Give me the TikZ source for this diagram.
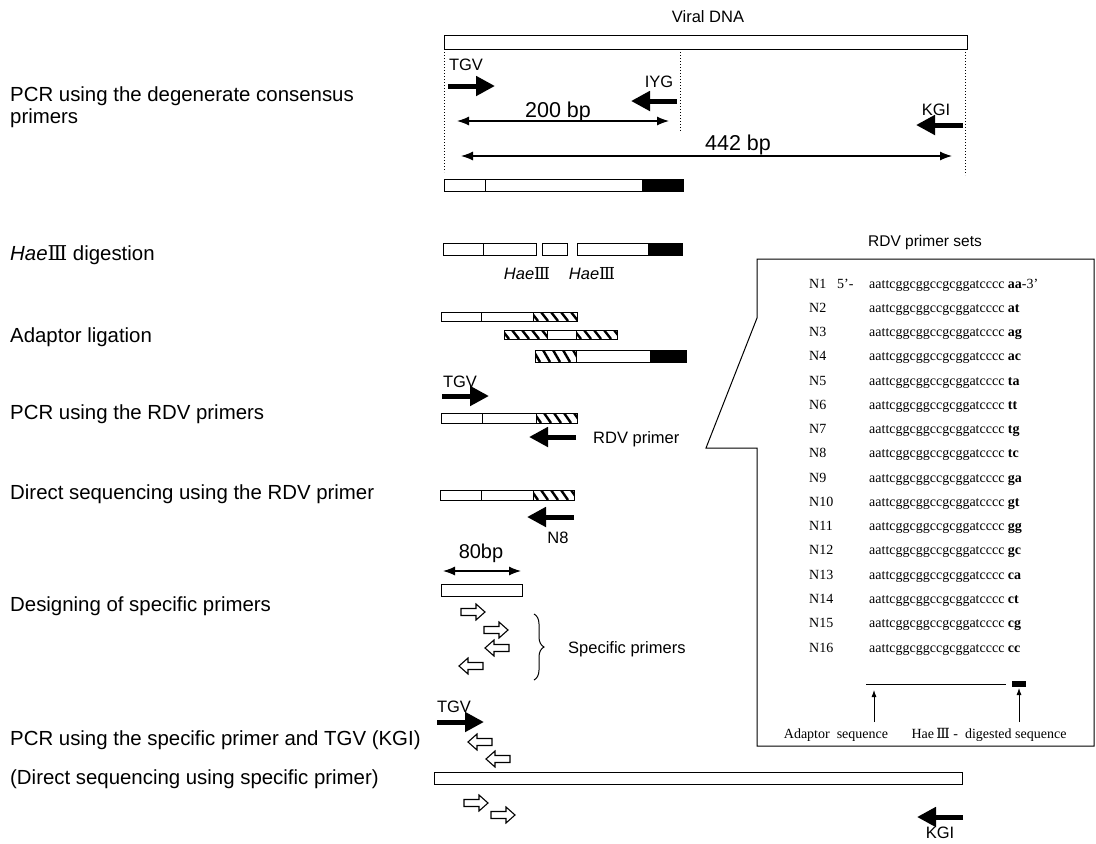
\documentclass[tikz,border=0pt]{standalone}
\usepackage{fontspec}
\setmainfont{Liberation Sans}
\newfontfamily\seriffam{Liberation Serif}
\newfontfamily\romnum{DejaVu Serif}
\usetikzlibrary{arrows.meta,decorations.pathreplacing}
\newcommand\stepfont{\fontsize{20.4}{23}\selectfont}
\newcommand\labfont{\fontsize{16.5}{19}\selectfont}
\newcommand\bpfont{\fontsize{21.5}{24}\selectfont}
\newcommand\boxfont{\seriffam\fontsize{14}{16}\selectfont}
\newcommand\hthree{{\romnum Ⅲ}}
\tikzset{
  barline/.style={draw, line width=1pt},
  bar/.style={barline, fill=white},
  blk/.style={barline, fill=black},
  primer/.style={line width=5pt, -{Triangle[length=19pt,width=19pt]}},
  dimarrow/.style={line width=1.2pt, {Latex[length=12pt,width=9pt]}-{Latex[length=12pt,width=9pt]}},
  dotline/.style={line width=1pt, dash pattern=on 1.3pt off 1.7pt},
  upa/.style={line width=0.8pt, -{Latex[length=7pt,width=5pt]}},
  steplab/.style={font=\stepfont, inner sep=0pt, anchor=base west},
  lab/.style={font=\labfont, inner sep=0pt, anchor=base},
  bplab/.style={font=\bpfont, inner sep=0pt, anchor=base},
  boxtxt/.style={font=\boxfont, inner sep=0pt, anchor=base west},
  openR/.pic={\draw[line width=1.1pt,fill=white] (-12,-3.5) -- (3,-3.5) -- (3,-8) -- (12,0) -- (3,8) -- (3,3.5) -- (-12,3.5) -- cycle;},
  openL/.pic={\draw[line width=1.1pt,fill=white] (12,-3.5) -- (-3,-3.5) -- (-3,-8) -- (-12,0) -- (-3,8) -- (-3,3.5) -- (12,3.5) -- cycle;}
}
\newcommand\hatchseg[4]{%
  \begin{scope}
    \clip (#1,#2) rectangle (#3,#4);
    \foreach \k in {-12,-2,...,58} \draw[line width=2.4pt] ({#1+\k},#2) -- ({#1+\k+7},#4);
  \end{scope}
  \draw[barline] (#1,#2) rectangle (#3,#4);}
\begin{document}
\begin{tikzpicture}[x=1pt,y=-1pt]
\useasboundingbox (0,0) rectangle (1096,844);

% ---------- step labels ----------
\node[steplab] (s1a) at (10,101) {PCR using the degenerate consensus};
\node[steplab] (s1b) at (10,123) {primers};
\node[steplab] (s2) at (10,260) {\textit{Hae}\hthree\ digestion};
\node[steplab] (s3) at (10,342) {Adaptor ligation};
\node[steplab] (s4) at (10,419) {PCR using the RDV primers};
\node[steplab] (s5) at (10,499) {Direct sequencing using the RDV primer};
\node[steplab] (s6) at (10,611) {Designing of specific primers};
\node[steplab] (s7) at (10,745) {PCR using the specific primer and TGV (KGI)};
\node[steplab] (s8) at (10,784) {(Direct sequencing using specific primer)};

% ---------- step 1 ----------
\node[lab] (vdna) at (708,22) {Viral DNA};
\draw[bar] (444,35) rectangle (967,49);
\coordinate (d1t) at (444,49); \coordinate (d1b) at (444,172);
\coordinate (d2t) at (680,49); \coordinate (d2b) at (680,132);
\coordinate (d3t) at (965,49); \coordinate (d3b) at (965,175);
\draw[dotline] (d1t) -- (d1b);
\draw[dotline] (d2t) -- (d2b);
\draw[dotline] (d3t) -- (d3b);
\node[lab] (tgv1) at (466,70) {TGV};
\coordinate (tgv1a) at (448,86); \coordinate (tgv1b) at (495,86);
\draw[primer] (tgv1a) -- (tgv1b);
\node[lab] (iyg) at (659,87) {IYG};
\coordinate (iyga) at (677,101); \coordinate (iygb) at (631,101);
\draw[primer] (iyga) -- (iygb);
\node[lab] (kgi1) at (936,115) {KGI};
\coordinate (kgi1a) at (963,125); \coordinate (kgi1b) at (916,125);
\draw[primer] (kgi1a) -- (kgi1b);
\node[bplab] (bp200) at (558,117) {200 bp};
\coordinate (b2a) at (457,121); \coordinate (b2b) at (669,121);
\draw[dimarrow] (b2a) -- (b2b);
\node[bplab] (bp442) at (738,150) {442 bp};
\coordinate (b4a) at (461,156); \coordinate (b4b) at (952,156);
\draw[dimarrow] (b4a) -- (b4b);
\draw[bar] (444,179) rectangle (485,191);
\draw[bar] (485,179) rectangle (642,191);
\draw[blk] (642,179) rectangle (683,191);

% ---------- step 2 ----------
\draw[bar] (443,243) rectangle (483,255);
\draw[bar] (483,243) rectangle (536,255);
\draw[bar] (542,243) rectangle (567,255);
\draw[bar] (577,243) rectangle (648,255);
\draw[blk] (648,243) rectangle (682,255);
\node[lab] (h1) at (527,279) {\textit{Hae}\hthree};
\node[lab] (h2) at (592,279) {\textit{Hae}\hthree};

% ---------- step 3 ----------
\draw[bar] (441,312) rectangle (481,321);
\draw[bar] (481,312) rectangle (533,321);
\hatchseg{533}{312}{577}{321}
\hatchseg{504}{330}{547}{339}
\draw[bar] (547,330) rectangle (576,339);
\hatchseg{576}{330}{617}{339}
\hatchseg{535}{350}{576}{362}
\draw[bar] (576,350) rectangle (650,362);
\draw[blk] (650,350) rectangle (686,362);

% ---------- step 4 ----------
\node[lab] (tgv2) at (460,387) {TGV};
\coordinate (tgv2a) at (442,396); \coordinate (tgv2b) at (489,396);
\draw[primer] (tgv2a) -- (tgv2b);
\draw[bar] (441,413) rectangle (482,423);
\draw[bar] (482,413) rectangle (536,423);
\hatchseg{536}{413}{577}{423}
\coordinate (rdva) at (576,437); \coordinate (rdvb) at (529,437);
\draw[primer] (rdva) -- (rdvb);
\node[lab, anchor=base west] (rdvlab) at (593,443) {RDV primer};

% ---------- step 5 ----------
\draw[bar] (440,490) rectangle (481,500);
\draw[bar] (481,490) rectangle (533,500);
\hatchseg{533}{490}{574}{500}
\coordinate (n8a) at (574,517); \coordinate (n8b) at (527,517);
\draw[primer] (n8a) -- (n8b);
\node[lab] (n8lab) at (558,543) {N8};

% ---------- step 6 ----------
\node[lab, font=\fontsize{20}{23}\selectfont] (bp80) at (481,558) {80bp};
\coordinate (b8a) at (443,571); \coordinate (b8b) at (521,571);
\draw[dimarrow] (b8a) -- (b8b);
\draw[bar] (441,584) rectangle (522,596);
\pic at (473,612) {openR};
\pic at (496,630) {openR};
\pic at (497,648) {openL};
\pic at (471,666) {openL};
\coordinate (brt) at (534,614); \coordinate (brb) at (534,680);
\draw[line width=1pt, decorate, decoration={brace, amplitude=10pt}] (brt) -- (brb);
\node[lab, anchor=base west] (splab) at (568,653) {Specific primers};

% ---------- step 7 ----------
\node[lab] (tgv3) at (454,712) {TGV};
\coordinate (tgv3a) at (437,722); \coordinate (tgv3b) at (484,722);
\draw[primer] (tgv3a) -- (tgv3b);
\pic at (480,742) {openL};
\pic at (498,759) {openL};
\draw[bar] (434,772) rectangle (962,784);
\pic at (476,803) {openR};
\pic at (503,815) {openR};
\coordinate (kgi2a) at (963,817); \coordinate (kgi2b) at (917,817);
\draw[primer] (kgi2a) -- (kgi2b);
\node[lab] (kgi2) at (940,838) {KGI};

% ---------- RDV primer sets box ----------
\node[lab, font=\fontsize{15.5}{18}\selectfont] (rdvtitle) at (925,246) {RDV primer sets};
\draw[line width=1pt] (757,318) -- (757,259) -- (1094,259) -- (1094,746) -- (757,746) -- (757,448) -- (706,448) -- cycle;
\node[boxtxt] (n1) at (809,288) {N1};
\node[boxtxt] (p5) at (837,288) {5’-};
\node[boxtxt] (q1) at (869,288) {aattcggcggccgcggatcccc \textbf{aa}-3’};
\foreach \s [count=\i from 2] in {at,ag,ac,ta,tt,tg,tc,ga,gt,gg,gc,ca,ct,cg,cc} {
  \pgfmathsetmacro\yy{288+(\i-1)*24.27}
  \node[boxtxt] (n\i) at (809,\yy) {N\i};
  \node[boxtxt] (q\i) at (869,\yy) {aattcggcggccgcggatcccc \textbf{\s}};
}
\coordinate (ula) at (866,684); \coordinate (ulb) at (1006,684);
\draw[line width=0.8pt] (ula) -- (ulb);
\fill (1012,681) rectangle (1026,687);
\node[boxtxt, anchor=base] (adlab) at (836,738) {Adaptor\ \ sequence};
\node[boxtxt, anchor=base] (hdlab) at (989,738) {Hae\,\hthree\ -\ \ digested sequence};
\coordinate (a1b) at (874,722); \coordinate (a1t) at (874,690);
\coordinate (a2b) at (1019,722); \coordinate (a2t) at (1019,688);
\draw[upa] (a1b) -- (a1t);
\draw[upa] (a2b) -- (a2t);
\end{tikzpicture}
\end{document}
